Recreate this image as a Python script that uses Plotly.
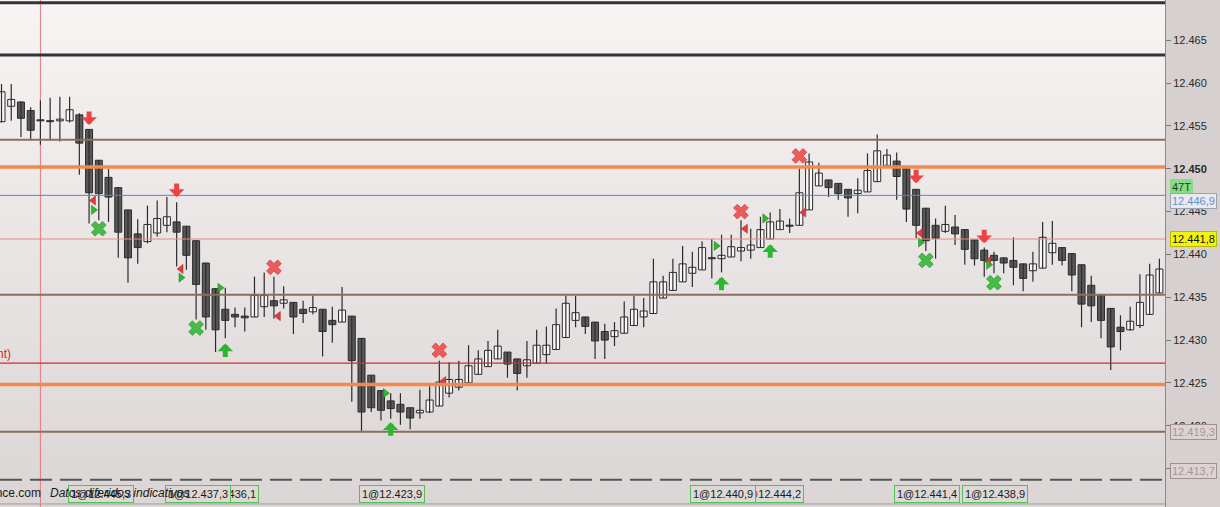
import plotly.graph_objects as go

# ---------------- data ----------------
OPEN = [12.4555, 12.4573, 12.4578, 12.4568, 12.4557, 12.4556, 12.4556, 12.4556, 12.4563, 12.4546,
        12.4510, 12.4490, 12.4478, 12.4452, 12.4424, 12.4415, 12.4425, 12.4434, 12.4438, 12.4433,
        12.4416, 12.4390, 12.4360, 12.4336, 12.4330, 12.4328, 12.4327, 12.4339, 12.4346, 12.4343,
        12.4344, 12.4336, 12.4333, 12.4336, 12.4323, 12.4321, 12.4328, 12.4302, 12.4259, 12.4241,
        12.4229, 12.4225, 12.4221, 12.4215, 12.4216, 12.4223, 12.4238, 12.4245, 12.4250, 12.4260,
        12.4269, 12.4278, 12.4286, 12.4278, 12.4270, 12.4273, 12.4283, 12.4289, 12.4303, 12.4323,
        12.4327, 12.4321, 12.4310, 12.4304, 12.4308, 12.4317, 12.4327, 12.4331, 12.4349, 12.4358,
        12.4368, 12.4378, 12.4382, 12.4396, 12.4395, 12.4397, 12.4404, 12.4405, 12.4408, 12.4418,
        12.4429, 12.4434, 12.4434, 12.4452, 12.4480, 12.4487, 12.4483, 12.4476, 12.4471, 12.4473,
        12.4485, 12.4504, 12.4509, 12.4500, 12.4476, 12.4454, 12.4434, 12.4427, 12.4432, 12.4429,
        12.4417, 12.4405, 12.4399, 12.4396, 12.4393, 12.4389, 12.4381, 12.4384, 12.4402, 12.4408,
        12.4401, 12.4388, 12.4364, 12.4353, 12.4337, 12.4315, 12.4312, 12.4317, 12.4330, 12.4355]
HIGH = [12.4599, 12.4599, 12.4579, 12.4572, 12.4580, 12.4583, 12.4584, 12.4584, 12.4565, 12.4546,
        12.4510, 12.4500, 12.4478, 12.4452, 12.4441, 12.4457, 12.4463, 12.4467, 12.4461, 12.4433,
        12.4416, 12.4390, 12.4360, 12.4361, 12.4338, 12.4338, 12.4374, 12.4379, 12.4374, 12.4363,
        12.4344, 12.4346, 12.4352, 12.4336, 12.4339, 12.4362, 12.4328, 12.4302, 12.4259, 12.4241,
        12.4238, 12.4238, 12.4221, 12.4242, 12.4246, 12.4276, 12.4274, 12.4276, 12.4294, 12.4288,
        12.4299, 12.4312, 12.4286, 12.4278, 12.4299, 12.4312, 12.4316, 12.4337, 12.4352, 12.4352,
        12.4327, 12.4321, 12.4319, 12.4321, 12.4345, 12.4352, 12.4349, 12.4395, 12.4375, 12.4395,
        12.4410, 12.4403, 12.4415, 12.4418, 12.4423, 12.4423, 12.4440, 12.4430, 12.4444, 12.4449,
        12.4453, 12.4442, 12.4500, 12.4518, 12.4507, 12.4487, 12.4483, 12.4476, 12.4489, 12.4518,
        12.4540, 12.4523, 12.4519, 12.4500, 12.4476, 12.4454, 12.4442, 12.4457, 12.4446, 12.4429,
        12.4417, 12.4408, 12.4403, 12.4396, 12.4420, 12.4389, 12.4403, 12.4438, 12.4439, 12.4408,
        12.4401, 12.4388, 12.4375, 12.4353, 12.4337, 12.4329, 12.4339, 12.4377, 12.4389, 12.4395]
LOW = [12.4554, 12.4556, 12.4537, 12.4534, 12.4528, 12.4534, 12.4532, 12.4554, 12.4493, 12.4436,
       12.4440, 12.4438, 12.4396, 12.4367, 12.4389, 12.4413, 12.4421, 12.4426, 12.4386, 12.4382,
       12.4324, 12.4312, 12.4286, 12.4302, 12.4315, 12.4310, 12.4327, 12.4327, 12.4325, 12.4337,
       12.4307, 12.4320, 12.4330, 12.4281, 12.4297, 12.4321, 12.4228, 12.4193, 12.4216, 12.4206,
       12.4208, 12.4201, 12.4196, 12.4208, 12.4215, 12.4223, 12.4233, 12.4241, 12.4250, 12.4260,
       12.4269, 12.4278, 12.4256, 12.4241, 12.4256, 12.4273, 12.4272, 12.4289, 12.4303, 12.4315,
       12.4307, 12.4278, 12.4278, 12.4293, 12.4308, 12.4317, 12.4315, 12.4331, 12.4349, 12.4358,
       12.4368, 12.4362, 12.4382, 12.4372, 12.4379, 12.4397, 12.4392, 12.4395, 12.4408, 12.4418,
       12.4429, 12.4425, 12.4434, 12.4452, 12.4480, 12.4467, 12.4464, 12.4444, 12.4448, 12.4473,
       12.4485, 12.4504, 12.4464, 12.4438, 12.4419, 12.4404, 12.4395, 12.4425, 12.4411, 12.4388,
       12.4387, 12.4374, 12.4378, 12.4378, 12.4364, 12.4357, 12.4368, 12.4384, 12.4388, 12.4387,
       12.4357, 12.4315, 12.4321, 12.4302, 12.4265, 12.4288, 12.4311, 12.4314, 12.4330, 12.4355]
CLOSE = [12.4590, 12.4581, 12.4559, 12.4545, 12.4556, 12.4555, 12.4558, 12.4569, 12.4530, 12.4472,
         12.4471, 12.4467, 12.4426, 12.4396, 12.4408, 12.4435, 12.4442, 12.4444, 12.4426, 12.4399,
         12.4365, 12.4327, 12.4312, 12.4323, 12.4327, 12.4326, 12.4352, 12.4352, 12.4340, 12.4347,
         12.4327, 12.4331, 12.4338, 12.4310, 12.4318, 12.4335, 12.4276, 12.4216, 12.4221, 12.4218,
         12.4220, 12.4216, 12.4209, 12.4218, 12.4230, 12.4251, 12.4254, 12.4254, 12.4270, 12.4278,
         12.4288, 12.4293, 12.4272, 12.4261, 12.4277, 12.4294, 12.4294, 12.4318, 12.4343, 12.4332,
         12.4316, 12.4299, 12.4300, 12.4311, 12.4327, 12.4336, 12.4334, 12.4368, 12.4368, 12.4379,
         12.4389, 12.4385, 12.4408, 12.4395, 12.4399, 12.4409, 12.4408, 12.4411, 12.4429, 12.4438,
         12.4439, 12.4433, 12.4472, 12.4508, 12.4495, 12.4478, 12.4471, 12.4466, 12.4475, 12.4498,
         12.4521, 12.4516, 12.4491, 12.4453, 12.4434, 12.4416, 12.4419, 12.4435, 12.4424, 12.4406,
         12.4395, 12.4393, 12.4393, 12.4390, 12.4385, 12.4372, 12.4389, 12.4420, 12.4413, 12.4393,
         12.4376, 12.4342, 12.4340, 12.4323, 12.4292, 12.4310, 12.4322, 12.4344, 12.4376, 12.4383]

DOWN_ARROW_IDX = [9, 18, 94, 101]
DOWN_ARROW_PRICE = [12.4551, 12.4467, 12.4483, 12.4413]
UP_ARROW_IDX = [23, 40, 74, 79]
UP_ARROW_PRICE = [12.4296, 12.4204, 12.4374, 12.4412]
RED_X_IDX = [28, 45, 76, 82]
RED_X_PRICE = [12.4385, 12.4288, 12.4450, 12.4515]
GREEN_X_IDX = [10, 20, 95, 102]
GREEN_X_PRICE = [12.4430, 12.4314, 12.4393, 12.4367]
RED_TRI_IDX = [9, 18, 28, 45, 76, 82, 94, 101]
RED_TRI_PRICE = [12.4463, 12.4383, 12.4328, 12.4252, 12.4430, 12.4449, 12.4425, 12.4392]
GREEN_TRI_IDX = [9, 18, 22, 39, 73, 78, 94, 101]
GREEN_TRI_PRICE = [12.4452, 12.4373, 12.4361, 12.4238, 12.4410, 12.4442, 12.4414, 12.4388]

LEVELS = [12.4694, 12.4633, 12.4534, 12.4502, 12.4469, 12.4418, 12.4353, 12.4273, 12.4248, 12.4193, 12.4137]
VLINE_IDX = 4

TICK_VALUES = [12.415, 12.420, 12.425, 12.430, 12.435, 12.440, 12.445, 12.450, 12.455, 12.460, 12.465]
TICK_LABELS = ['12.415', '12.420', '12.425', '12.430', '12.435', '12.440', '12.445',
               '<b>12.450</b>', '12.455', '12.460', '12.465']

TAG_TEXTS = ['47T', '12.446,9', '12.441,8', '12.419,3', '12.413,7']
TAG_PRICES = [12.4469, 12.4469, 12.4418, 12.4193, 12.4137]

TRADE_LABELS = ['1@12.445,3', '1@12.436,1', '1@12.437,3', '1@12.423,9',
                '1@12.444,2', '1@12.440,9', '1@12.441,4', '1@12.438,9']

# ---------------- styles ----------------
FONT = 'Arial, Liberation Sans, sans-serif'
LEVEL_STYLES = [
    dict(color='#333333', width=3), dict(color='#333333', width=3),
    dict(color='#8c6e5f', width=2), dict(color='#f5884b', width=3.5),
    dict(color='#4a8cc8', width=1), dict(color='#ec8a8a', width=1),
    dict(color='#8c6e5f', width=2), dict(color='#d42a2a', width=1.3),
    dict(color='#f5884b', width=3.5), dict(color='#8c6e5f', width=2),
    dict(color='#555555', width=2, dash='22px,8px'),
]
TAG_STYLES = [
    dict(bg='#86dc86', border='#86dc86', fc='#1f3f1f', yshift=8),
    dict(bg='#ebe8ee', border='#9aa3b0', fc='#5d93cc', yshift=-6),
    dict(bg='#f3f312', border='#b9b900', fc='#111111', yshift=0),
    dict(bg='#dcd4d4', border='#a09090', fc='#a89595', yshift=0),
    dict(bg='#dcd4d4', border='#a09090', fc='#a89595', yshift=9),
]
TRADE_LEFT_PX = [68, 193, 165, 359, 738, 690, 894, 962]
TRI_OFFSET = 0.45

X_RANGE = [-0.154, 119.577]
Y_RANGE = [12.41051, 12.46971]

fig = go.Figure()

# wicks
wx, wy = [], []
for i, (h, l) in enumerate(zip(HIGH, LOW)):
    wx += [i, i, None]
    wy += [l, h, None]
fig.add_trace(go.Scatter(x=wx, y=wy, mode='lines', line=dict(color='#2b2b2b', width=1.2),
                         hoverinfo='skip'))

# bodies
up_x, up_base, up_h, dn_x, dn_base, dn_h = [], [], [], [], [], []
for i, (o, c) in enumerate(zip(OPEN, CLOSE)):
    base = min(o, c)
    h = max(abs(c - o), 0.00012)
    if c > o:
        up_x.append(i); up_base.append(base); up_h.append(h)
    else:
        dn_x.append(i); dn_base.append(base); dn_h.append(h)
fig.add_trace(go.Bar(x=up_x, y=up_h, base=up_base, width=0.72,
                     marker=dict(color='#faf7f7', line=dict(color='#2b2b2b', width=1)),
                     hoverinfo='skip'))
fig.add_trace(go.Bar(x=dn_x, y=dn_h, base=dn_base, width=0.72,
                     marker=dict(color='#585858', line=dict(color='#2b2b2b', width=1)),
                     hoverinfo='skip'))

# signal markers
fig.add_trace(go.Scatter(x=RED_X_IDX, y=RED_X_PRICE, mode='markers',
                         marker=dict(symbol='x', size=13, color='#ec5c5c',
                                     line=dict(color='#d24040', width=0.8)), hoverinfo='skip'))
fig.add_trace(go.Scatter(x=GREEN_X_IDX, y=GREEN_X_PRICE, mode='markers',
                         marker=dict(symbol='x', size=13, color='#48bb48',
                                     line=dict(color='#2f9a2f', width=0.8)), hoverinfo='skip'))
fig.add_trace(go.Scatter(x=[i + TRI_OFFSET for i in RED_TRI_IDX], y=RED_TRI_PRICE, mode='markers',
                         marker=dict(symbol='triangle-left', size=8, color='#e23c3c',
                                     line=dict(color='#a02020', width=0.5)), hoverinfo='skip'))
fig.add_trace(go.Scatter(x=[i + TRI_OFFSET for i in GREEN_TRI_IDX], y=GREEN_TRI_PRICE, mode='markers',
                         marker=dict(symbol='triangle-right', size=8, color='#2fb82f',
                                     line=dict(color='#1a7a1a', width=0.5)), hoverinfo='skip'))

shapes = []
# background gradient of plot area
NB = 64
top_rgb, bot_rgb = (248, 244, 244), (219, 213, 213)
for k in range(NB):
    t = (k + 0.5) / NB
    r = round(top_rgb[0] + (bot_rgb[0] - top_rgb[0]) * t)
    g = round(top_rgb[1] + (bot_rgb[1] - top_rgb[1]) * t)
    b = round(top_rgb[2] + (bot_rgb[2] - top_rgb[2]) * t)
    shapes.append(dict(type='rect', xref='paper', yref='paper', x0=0, x1=1,
                       y0=1 - (k + 1) / NB, y1=1 - k / NB + 0.001, layer='below',
                       fillcolor=f'rgb({r},{g},{b})', line=dict(width=0)))
# vertical marker line
shapes.append(dict(type='line', xref='x', yref='paper', x0=VLINE_IDX, x1=VLINE_IDX, y0=0, y1=1,
                   layer='below', line=dict(color='#ea7a7a', width=1)))
# horizontal levels
for lv, st in zip(LEVELS, LEVEL_STYLES):
    shapes.append(dict(type='line', xref='paper', yref='y', x0=0, x1=1, y0=lv, y1=lv,
                       layer='above', line=st))
# bottom separator
shapes.append(dict(type='line', xref='paper', yref='paper', x0=0, x1=1, y0=0.006, y1=0.006,
                   layer='above', line=dict(color='#9c9c9c', width=1)))
fig.update_layout(shapes=shapes)

# arrows
for i, p in zip(DOWN_ARROW_IDX, DOWN_ARROW_PRICE):
    fig.add_annotation(x=i, y=p, xref='x', yref='y', text='', showarrow=True, ax=0, ay=-15,
                       arrowhead=1, arrowsize=0.52, arrowwidth=5, arrowcolor='#ec4444')
for i, p in zip(UP_ARROW_IDX, UP_ARROW_PRICE):
    fig.add_annotation(x=i, y=p, xref='x', yref='y', text='', showarrow=True, ax=0, ay=15,
                       arrowhead=1, arrowsize=0.52, arrowwidth=5, arrowcolor='#30b530')

# price tags on the right axis
for txt, p, st in zip(TAG_TEXTS, TAG_PRICES, TAG_STYLES):
    fig.add_annotation(x=1, xref='paper', xanchor='left', xshift=5, y=p, yref='y',
                       yshift=st['yshift'], text=txt, showarrow=False,
                       bgcolor=st['bg'], bordercolor=st['border'], borderwidth=1, borderpad=1,
                       font=dict(family=FONT, size=11, color=st['fc']))

# trade labels at bottom
for txt, px in zip(TRADE_LABELS, TRADE_LEFT_PX):
    fig.add_annotation(x=0, xref='paper', xanchor='left', xshift=px, y=0, yref='paper',
                       yanchor='bottom', yshift=4, text=txt, showarrow=False,
                       bgcolor='#dcd8d6', bordercolor='#55c055', borderwidth=1, borderpad=2,
                       font=dict(family=FONT, size=11, color='#1a1a1a'))

# footer text and cut-off level label
fig.add_annotation(x=0, xref='paper', xanchor='right', xshift=43, y=0, yref='paper',
                   yanchor='bottom', yshift=5, text='ance.com', showarrow=False,
                   font=dict(family=FONT, size=12, color='#1a1a1a'))
fig.add_annotation(x=0, xref='paper', xanchor='left', xshift=48, y=0, yref='paper',
                   yanchor='bottom', yshift=5, text='<i>Datos diferidos indicativos</i>',
                   showarrow=False, font=dict(family=FONT, size=12, color='#1a1a1a'))
fig.add_annotation(x=0, xref='paper', xanchor='right', xshift=13, y=LEVELS[7], yref='y',
                   yanchor='bottom', yshift=0, text='nt)', showarrow=False,
                   font=dict(family=FONT, size=12, color='#d42a2a'))

fig.update_layout(
    width=1220, height=507,
    margin=dict(l=0, r=55, t=0, b=0),
    paper_bgcolor='#d6d0d0', plot_bgcolor='#ebe6e6',
    showlegend=False, barmode='overlay', hovermode=False,
    xaxis=dict(range=X_RANGE, visible=False, showgrid=False, zeroline=False),
    yaxis=dict(range=Y_RANGE, side='right', tickvals=TICK_VALUES, ticktext=TICK_LABELS,
               showgrid=False, zeroline=False, showline=True, linecolor='#8a8a8a',
               ticks='outside', ticklen=5, tickcolor='#777777',
               tickfont=dict(family=FONT, size=11, color='#2a2a2a')),
)

fig.write_html("out.html", config={'displayModeBar': False},
               post_script="document.body.style.margin='0';document.body.style.overflow='hidden';")
